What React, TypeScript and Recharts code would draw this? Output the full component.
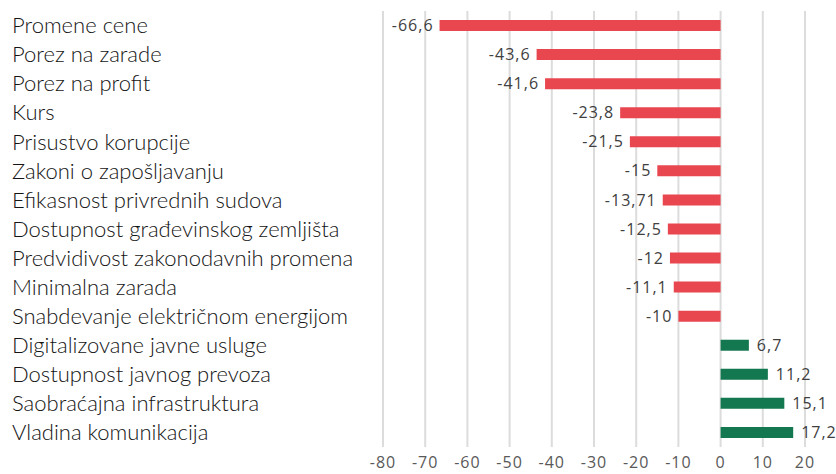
import { BarChart, Bar, XAxis, YAxis, CartesianGrid, Cell, LabelList } from 'recharts';

const categories = [
  'Promene cene',
  'Porez na zarade',
  'Porez na profit',
  'Kurs',
  'Prisustvo korupcije',
  'Zakoni o zapošljavanju',
  'Efikasnost privrednih sudova',
  'Dostupnost građevinskog zemljišta',
  'Predvidivost zakonodavnih promena',
  'Minimalna zarada',
  'Snabdevanje električnom energijom',
  'Digitalizovane javne usluge',
  'Dostupnost javnog prevoza',
  'Saobraćajna infrastruktura',
  'Vladina komunikacija',
];

const values = [-66.6, -43.6, -41.6, -23.8, -21.5, -15, -13.71, -12.5, -12, -11.1, -10, 6.7, 11.2, 15.1, 17.2];

const xTicks = [-80, -70, -60, -50, -40, -30, -20, -10, 0, 10, 20];

const RED = '#E9474F';
const GREEN = '#13774F';

const data = categories.map((name, i) => ({ name, value: values[i] }));

const formatValue = (v: number) => String(v).replace('.', ',');

const CategoryTick = (props: any) => {
  const { y, payload } = props;
  return (
    <text x={12} y={y} dy="0.35em" textAnchor="start" fontFamily="Lato" fontWeight={300} fontSize={22} fill="#141414">
      {payload.value}
    </text>
  );
};

const ValueLabel = (props: any) => {
  const { x, y, width, height, value } = props;
  const neg = value < 0;
  const end = neg ? Math.min(x, x + width) : Math.max(x, x + width);
  return (
    <text
      x={neg ? end - 6 : end + 8}
      y={y + height / 2}
      dy="0.35em"
      textAnchor={neg ? 'end' : 'start'}
      fontFamily="Open Sans"
      fontSize={16}
      letterSpacing={1}
      fill="#404040"
    >
      {formatValue(value)}
    </text>
  );
};

const App = () => {
  return (
    <div style={{ position: 'absolute', left: 0, top: 0, background: '#fff' }}>
      <BarChart
        width={836}
        height={474}
        data={data}
        layout="vertical"
        margin={{ top: 11, right: 31, left: 0, bottom: 0 }}
        barSize={11}
      >
        <CartesianGrid horizontal={false} stroke="#dcdcdc" strokeWidth={2} />
        <XAxis
          type="number"
          domain={[-80, 20]}
          ticks={xTicks}
          height={27}
          axisLine={false}
          tickLine={false}
          tickMargin={4}
          tick={{ fill: '#595959', fontFamily: 'Open Sans', fontSize: 16, letterSpacing: 1 }}
        />
        <YAxis
          type="category"
          dataKey="name"
          width={383}
          axisLine={false}
          tickLine={false}
          tick={<CategoryTick />}
          interval={0}
        />
        <Bar dataKey="value" isAnimationActive={false}>
          {data.map((d, i) => (
            <Cell key={`cell-${i}`} fill={d.value < 0 ? RED : GREEN} />
          ))}
          <LabelList dataKey="value" content={<ValueLabel />} />
        </Bar>
      </BarChart>
    </div>
  );
};

export default App;
